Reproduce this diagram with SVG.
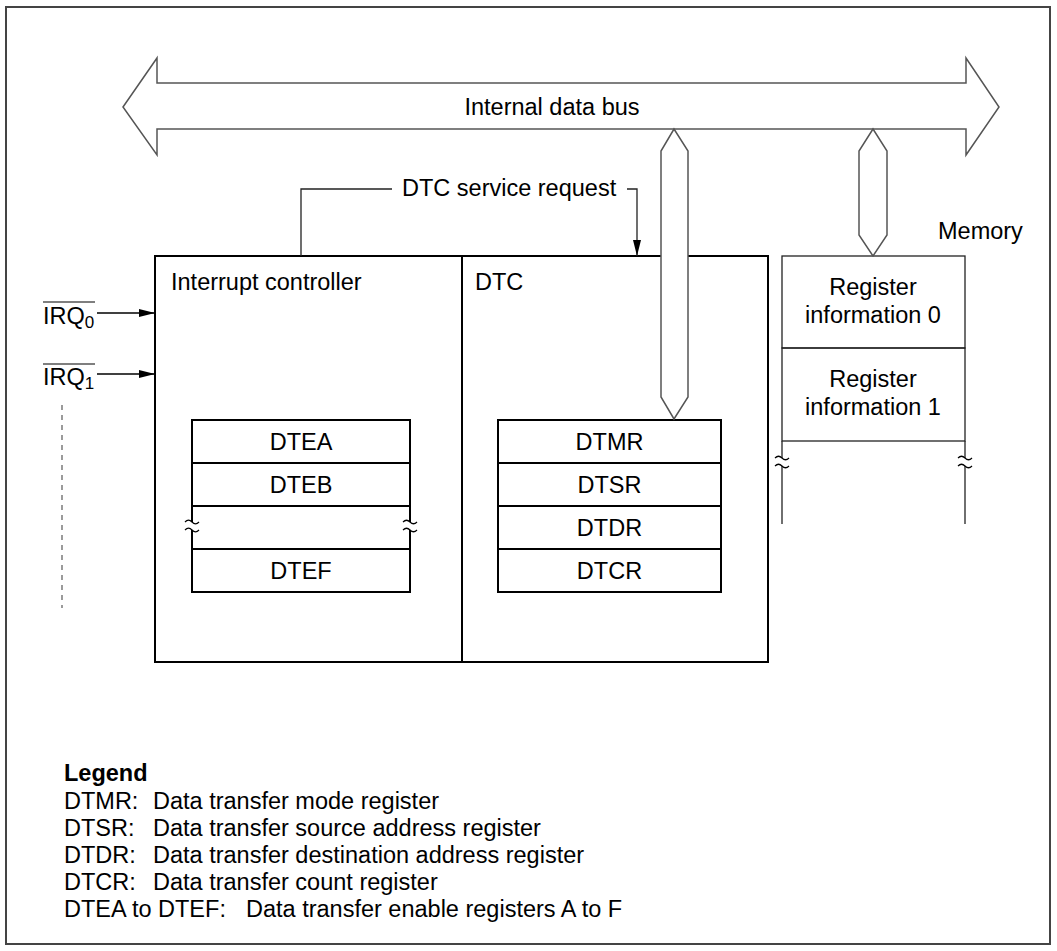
<svg xmlns="http://www.w3.org/2000/svg" width="1057" height="951" viewBox="0 0 1057 951">
<defs>
<marker id="ah" viewBox="0 0 16 8" refX="16" refY="4" markerWidth="16" markerHeight="8" markerUnits="userSpaceOnUse" orient="auto">
<path d="M0,0 L16,4 L0,8 Z" fill="#000"/>
</marker>
<style>
text{font-family:"Liberation Sans",Arial,sans-serif;font-size:23.5px;fill:#000}
.c{text-anchor:middle}
.box{fill:#fff;stroke:#000;stroke-width:2}
.thin{fill:none;stroke:#222;stroke-width:1.3}
.bus{fill:#fff;stroke:#555;stroke-width:1.5}
.wave{fill:none;stroke:#000;stroke-width:1.2}
.sub{font-size:17px}
</style>
</defs>
<rect x="6" y="7" width="1044" height="937" fill="#fff" stroke="#444" stroke-width="2"/>

<g id="internal-data-bus">
<polygon class="bus" points="123,107 157,58 157,83 966,83 966,58 999,107 966,155 966,129 157,129 157,155"/>
<text class="c" x="552" y="115">Internal data bus</text>
</g>

<g id="main-box">
<rect class="box" x="155" y="256" width="613" height="406"/>
<line x1="462" y1="256" x2="462" y2="662" stroke="#000" stroke-width="2"/>
</g>

<g id="interrupt-controller">
<text x="171" y="290">Interrupt controller</text>
</g>

<g id="dtc">
<text x="475" y="290">DTC</text>
</g>

<g id="dte-registers">
<rect class="box" x="192" y="420" width="218" height="43"/>
<rect class="box" x="192" y="463" width="218" height="43"/>
<rect class="box" x="192" y="506" width="218" height="43"/>
<rect class="box" x="192" y="549" width="218" height="43"/>
<text class="c" x="301" y="450">DTEA</text>
<text class="c" x="301" y="493">DTEB</text>
<text class="c" x="301" y="579">DTEF</text>
<rect x="185" y="522" width="14" height="8" fill="#fff"/>
<rect x="403" y="522" width="14" height="8" fill="#fff"/>
<path class="wave" d="M185,522 q3.5,-3.5 7,0 t7,0 M185,530 q3.5,-3.5 7,0 t7,0"/>
<path class="wave" d="M403,522 q3.5,-3.5 7,0 t7,0 M403,530 q3.5,-3.5 7,0 t7,0"/>
</g>

<g id="dtc-registers">
<rect class="box" x="498" y="420" width="223" height="43"/>
<rect class="box" x="498" y="463" width="223" height="43"/>
<rect class="box" x="498" y="506" width="223" height="43"/>
<rect class="box" x="498" y="549" width="223" height="43"/>
<text class="c" x="609.5" y="450">DTMR</text>
<text class="c" x="609.5" y="493">DTSR</text>
<text class="c" x="609.5" y="536">DTDR</text>
<text class="c" x="609.5" y="579">DTCR</text>
</g>

<g id="memory">
<text x="938" y="239">Memory</text>
<rect class="thin" x="782" y="256" width="183" height="92" fill="#fff"/>
<rect class="thin" x="782" y="348" width="183" height="93" fill="#fff"/>
<line class="thin" x1="782" y1="441" x2="782" y2="524"/>
<line class="thin" x1="965" y1="441" x2="965" y2="524"/>
<text class="c" x="873" y="295">Register</text>
<text class="c" x="873" y="323">information 0</text>
<text class="c" x="873" y="387">Register</text>
<text class="c" x="873" y="415">information 1</text>
<rect x="775" y="458" width="14" height="8" fill="#fff"/>
<rect x="958" y="458" width="14" height="8" fill="#fff"/>
<path class="wave" d="M775,458 q3.5,-3.5 7,0 t7,0 M775,466 q3.5,-3.5 7,0 t7,0"/>
<path class="wave" d="M958,458 q3.5,-3.5 7,0 t7,0 M958,466 q3.5,-3.5 7,0 t7,0"/>
</g>

<g id="irq-inputs">
<text x="43" y="324">IRQ<tspan class="sub" dy="4">0</tspan></text>
<line x1="43" y1="302" x2="95" y2="302" stroke="#000" stroke-width="1.2"/>
<text x="43" y="385">IRQ<tspan class="sub" dy="4">1</tspan></text>
<line x1="43" y1="364" x2="95" y2="364" stroke="#000" stroke-width="1.2"/>
</g>

<g id="connectors">
<polygon class="bus" points="674,129 688,151 688,397 674,419 661,397 661,151"/>
<polygon class="bus" points="873,129 887,151 887,235 873,256 859,235 859,151"/>
<line x1="97" y1="313" x2="155" y2="313" stroke="#000" stroke-width="1.3" marker-end="url(#ah)"/>
<line x1="97" y1="374" x2="155" y2="374" stroke="#000" stroke-width="1.3" marker-end="url(#ah)"/>
<line x1="62" y1="405" x2="62" y2="608" stroke="#666" stroke-width="1.3" stroke-dasharray="5,5"/>
<polyline class="thin" points="301,256 301,189 392,189"/>
<polyline class="thin" points="627,189 637,189 637,256" marker-end="url(#ah)"/>
<text x="402" y="196">DTC service request</text>
</g>

<g id="legend">
<text x="64" y="781" font-weight="bold">Legend</text>
<text x="64" y="809">DTMR:<tspan x="153">Data transfer mode register</tspan></text>
<text x="64" y="836">DTSR:<tspan x="153">Data transfer source address register</tspan></text>
<text x="64" y="863">DTDR:<tspan x="153">Data transfer destination address register</tspan></text>
<text x="64" y="890">DTCR:<tspan x="153">Data transfer count register</tspan></text>
<text x="64" y="917">DTEA to DTEF:<tspan x="246">Data transfer enable registers A to F</tspan></text>
</g>
</svg>
